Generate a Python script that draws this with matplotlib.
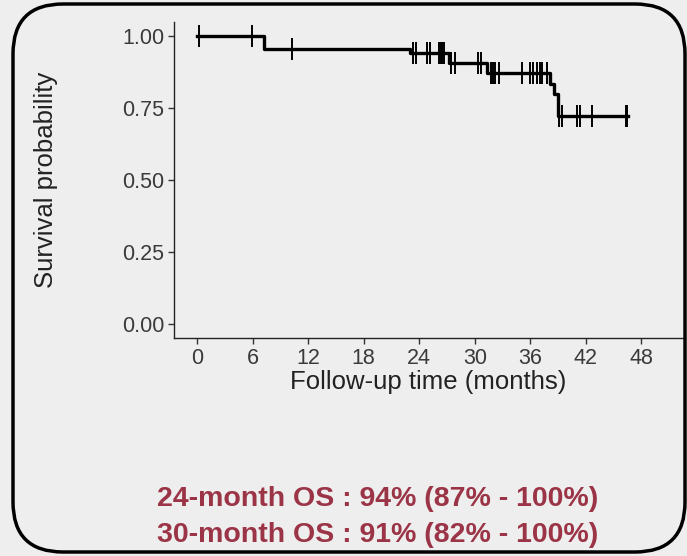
import numpy as np
import matplotlib.pyplot as plt
from matplotlib.patches import FancyBboxPatch
from matplotlib.transforms import IdentityTransform

# Kaplan-Meier step curve (time in months, survival probability)
step_times = [0.0, 7.2, 23.0, 27.2, 31.3, 38.1, 38.6, 39.0, 46.6]
step_surv = [1.000, 0.957, 0.943, 0.908, 0.873, 0.835, 0.800, 0.722, 0.722]

# censored patients (months)
censor_times = [0.15, 5.9, 10.2,
                23.3, 23.7, 24.8, 25.2, 26.1, 26.3, 26.5, 26.7,
                27.4, 27.9, 30.3, 30.7,
                31.7, 32.0, 32.2, 32.6, 35.1, 36.0, 36.3, 36.7, 37.0, 37.3, 37.8,
                39.1, 39.4, 41.0, 41.4, 42.7, 46.3, 46.5]

x_ticks = [0, 6, 12, 18, 24, 30, 36, 42, 48]
y_ticks = [0.00, 0.25, 0.50, 0.75, 1.00]

os_lines = ["24-month OS : 94% (87% - 100%)",
            "30-month OS : 91% (82% - 100%)"]

bg = '#eeeeee'
red = '#9b3446'
plt.rcParams['font.family'] = ['Liberation Sans', 'DejaVu Sans']

W, H = 687, 556
fig = plt.figure(figsize=(W / 100, H / 100), dpi=100)
fig.patch.set_facecolor(bg)

# rounded frame around the panel (pixel coordinates)
frame = FancyBboxPatch((13, 4), 672, 548,
                       boxstyle='round,pad=0,rounding_size=50',
                       transform=IdentityTransform(), facecolor='none',
                       edgecolor='black', linewidth=2.5, zorder=0)
fig.patches.append(frame)

ax = fig.add_axes([174 / W, 1 - 338 / H, (683 - 174) / W, (338 - 22) / H])
ax.set_facecolor(bg)

ax.step(step_times, step_surv, where='post', color='black', linewidth=2.4)

# censor marks sit on the curve value at their time
idx = np.searchsorted(step_times, censor_times, side='right') - 1
censor_surv = np.array(step_surv)[idx]
ax.plot(censor_times, censor_surv, linestyle='none', marker='|',
        markersize=16, markeredgewidth=1.4, color='black')

ax.set_xlim(-2.5, 52.5)
ax.set_ylim(-0.05, 1.05)
ax.set_xticks(x_ticks)
ax.set_yticks(y_ticks)
ax.set_yticklabels([f'{v:.2f}' for v in y_ticks])

for side in ['top', 'right']:
    ax.spines[side].set_visible(False)
for side in ['left', 'bottom']:
    ax.spines[side].set_color('#222222')
    ax.spines[side].set_linewidth(1.0)

ax.tick_params(direction='out', length=4, width=1, color='#333333',
               labelsize=15.5, labelcolor='#3a3a3a', pad=3)

ax.set_xlabel('Follow-up time (months)', fontsize=18.5, color='#222222', labelpad=1)
ax.set_ylabel('Survival probability', fontsize=18.5, color='#222222', labelpad=46)

fig.text(0.549, 1 - 499 / H, os_lines[0], ha='center', va='center',
         fontsize=20.5, fontweight='bold', color=red)
fig.text(0.549, 1 - 535 / H, os_lines[1], ha='center', va='center',
         fontsize=20.5, fontweight='bold', color=red)

fig.savefig('out.png', dpi=100, facecolor=bg)
